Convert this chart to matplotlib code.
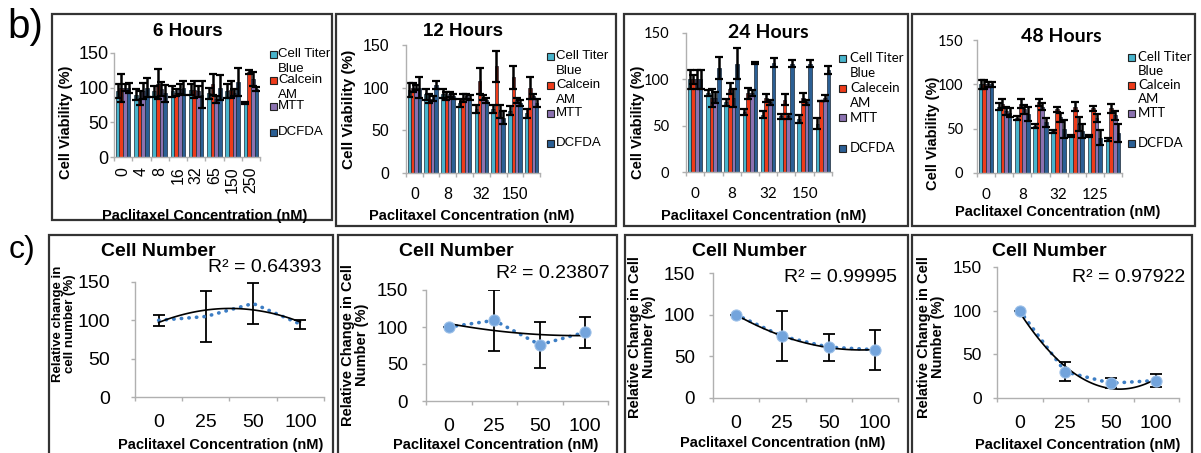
import numpy as np
import matplotlib
matplotlib.use("Agg")
import matplotlib.pyplot as plt
from matplotlib.patches import Rectangle

plt.rcParams["font.family"] = ["Liberation Sans", "DejaVu Sans"]

# ---- data ----
conc_labels = ["0", "4", "8", "16", "32", "65", "150", "250"]
conc_labels_48h = ["0", "4", "8", "16", "32", "65", "125", "250"]
assay_names = ["Cell Titer\nBlue", "Calcein\nAM", "MTT", "DCFDA"]
assay_names_24h = ["Cell Titer\nBlue", "Calecein\nAM", "MTT", "DCFDA"]

# rows: Cell Titer Blue, Calcein AM, MTT, DCFDA
means_6h = [[95, 90, 95, 95, 97, 92, 95, 78],
            [100, 85, 105, 93, 97, 105, 97, 122],
            [100, 95, 98, 98, 95, 83, 93, 112],
            [100, 100, 92, 100, 90, 100, 108, 98]]
errs_6h = [[10, 8, 8, 8, 8, 8, 10, 2],
           [20, 10, 22, 5, 12, 15, 12, 3],
           [5, 12, 10, 7, 8, 5, 5, 10],
           [7, 14, 12, 10, 20, 18, 20, 3]]

means_12h = [[97, 92, 93, 82, 75, 75, 73, 70],
             [100, 87, 90, 88, 108, 125, 112, 100],
             [100, 87, 92, 90, 88, 72, 85, 90],
             [100, 103, 90, 88, 85, 65, 82, 82]]
errs_12h = [[8, 6, 5, 5, 5, 5, 5, 5],
            [5, 5, 5, 5, 15, 18, 13, 13],
            [3, 3, 3, 3, 3, 8, 3, 3],
            [12, 5, 3, 3, 3, 8, 3, 5]]

means_24h = [[100, 85, 75, 65, 62, 60, 57, 52],
             [100, 80, 90, 85, 80, 78, 80, 77],
             [100, 80, 80, 85, 75, 60, 75, 80],
             [100, 112, 117, 118, 118, 117, 117, 110]]
errs_24h = [[10, 3, 4, 3, 4, 3, 4, 6],
            [5, 10, 6, 6, 4, 6, 5, 0],
            [10, 6, 10, 3, 3, 3, 3, 3],
            [10, 12, 17, 1, 5, 4, 4, 4]]

means_48h = [[100, 75, 62, 53, 47, 42, 42, 38],
             [100, 78, 78, 80, 72, 75, 73, 73],
             [100, 70, 72, 75, 63, 55, 62, 65],
             [100, 68, 67, 57, 50, 47, 40, 45]]
errs_48h = [[5, 4, 2, 2, 2, 1, 1, 2],
            [5, 5, 5, 4, 3, 5, 3, 5],
            [3, 5, 5, 4, 5, 8, 5, 5],
            [3, 5, 8, 5, 10, 8, 8, 10]]

dose_labels = ["0", "25", "50", "100"]
cells_1 = [100, 105, 122, 95]
cells_1_err = [7, 33, 27, 6]
cells_2 = [100, 109, 76, 93]
cells_2_err = [0, 41, 31, 21]
cells_3 = [100, 74, 61, 58]
cells_3_err = [0, 30, 16, 24]
cells_4 = [100, 30, 17, 20]
cells_4_err = [0, 11, 6, 7]
r2_labels = ["R² = 0.64393", "R² = 0.23807", "R² = 0.99995", "R² = 0.97922"]

assay_colors = ["#48B4CC", "#EE3B1A", "#8B72B0", "#2B5F94"]
AXIS_GRAY = "#B0B0B0"
DOT_BLUE = "#3C7DC4"
MARKER_BLUE = "#73A4DC"
BAR_W = 0.2

W, H = 1201, 453
fig = plt.figure(figsize=(W / 100, H / 100), dpi=100)


def fx(x):
    return x / W


def fy(y):
    return 1 - y / H


def ftext(x, y, s, **kw):
    kw.setdefault("ha", "center")
    kw.setdefault("va", "center")
    fig.text(fx(x), fy(y), s, **kw)


def box(x0, y0, x1, y1):
    fig.add_artist(Rectangle((fx(x0), fy(y1)), (x1 - x0) / W, (y1 - y0) / H,
                             transform=fig.transFigure, fill=False,
                             ec="#333333", lw=1.6))


def new_axes(x0, y0, x1, y1):
    ax = fig.add_axes([fx(x0), fy(y1), (x1 - x0) / W, (y1 - y0) / H])
    ax.patch.set_alpha(0)
    for s in ("top", "right"):
        ax.spines[s].set_visible(False)
    for s in ("left", "bottom"):
        ax.spines[s].set_color(AXIS_GRAY)
        ax.spines[s].set_linewidth(1.0)
    ax.tick_params(which="major", colors=AXIS_GRAY, labelcolor="black",
                   direction="out", length=3, width=1.0)
    return ax


def cat_ticks(ax, n, labels, shown, fs, pad, family, rot=0):
    ax.set_xlim(0, n)
    ax.set_xticks(np.arange(n + 1))
    ax.set_xticklabels([])
    centers = np.arange(n) + 0.5
    ax.set_xticks(centers[shown], minor=True)
    ax.set_xticklabels([labels[i] for i in shown], minor=True, rotation=rot,
                       fontsize=fs, family=family)
    ax.tick_params(axis="x", which="minor", length=0, pad=pad)


def bar_panel(rect, means, errs, labels, shown, rot, xfs, yfs, family, ypad, xpad):
    ax = new_axes(*rect)
    n = len(labels)
    pos = np.arange(n) + 0.5
    for k in range(4):
        ax.bar(pos + (k - 1.5) * BAR_W, means[k], BAR_W, color=assay_colors[k],
               edgecolor="#1d2a38", linewidth=0.5, yerr=errs[k], zorder=2,
               error_kw=dict(ecolor="black", elinewidth=1.8, capsize=3, capthick=1.6))
    ax.set_ylim(0, 150)
    ax.set_yticks([0, 50, 100, 150])
    ax.set_yticklabels(["0", "50", "100", "150"], fontsize=yfs, family=family)
    ax.tick_params(axis="y", pad=ypad)
    cat_ticks(ax, n, labels, shown, xfs, xpad, family, rot)
    return ax


def legend_block(sq_x, txt_x, y_entries, line_gap, names, fs, family):
    for k, name in enumerate(names):
        y = y_entries[k]
        fig.add_artist(Rectangle((fx(sq_x - 3.5), fy(y + 3.5)), 7 / W, 7 / H,
                                 transform=fig.transFigure, fc=assay_colors[k],
                                 ec="#222222", lw=0.8))
        for j, line in enumerate(name.split("\n")):
            ftext(txt_x, y + j * line_gap, line, ha="left", fontsize=fs, family=family)


def line_panel(rect, means, errs, markers, ypad, fs):
    ax = new_axes(*rect)
    pos = np.arange(4) + 0.5
    ax.errorbar(pos, means, yerr=errs, fmt="none", ecolor="black", elinewidth=1.3,
                capsize=4, capthick=1.3, zorder=3)
    ax.plot(pos, means, color=DOT_BLUE, lw=2.6, linestyle=(0, (0.1, 2.0)),
            dash_capstyle="round", zorder=4)
    if markers:
        ax.plot(pos, means, "o", ms=8, color=MARKER_BLUE, mec="#9CC0E8", mew=0.8, zorder=5)
    coef = np.polyfit(pos, means, 2)
    xs = np.linspace(pos[0], pos[-1], 100)
    ax.plot(xs, np.polyval(coef, xs), color="black", lw=1.2, zorder=4)
    ax.set_ylim(0, 150)
    ax.set_yticks([0, 50, 100, 150])
    ax.set_yticklabels(["0", "50", "100", "150"], fontsize=fs)
    ax.tick_params(axis="y", pad=ypad)
    cat_ticks(ax, 4, dose_labels, [0, 1, 2, 3], 14, 12, "Liberation Sans")
    return ax


# ---- panel frames and letters ----
for x0, x1, y1 in [(52, 332, 220), (336, 616, 226), (624, 908, 226), (912, 1195, 226)]:
    box(x0, 14, x1, y1)
for x0, x1 in [(49, 333), (338, 617), (625, 908), (912, 1192)]:
    box(x0, 235, x1, 470)
ftext(25, 27, "b)", fontsize=29)
ftext(22, 250, "c)", fontsize=23)

# ---- row b: viability bar charts ----
ARIAL = "Liberation Sans"
CAL = "Lato"
every_other = [0, 2, 4, 6]

bar_panel((114, 53, 260, 157), means_6h, errs_6h, conc_labels, list(range(8)), 90,
          11.5, 13, ARIAL, 1, 7)
bar_panel((406, 45, 540, 173), means_12h, errs_12h, conc_labels, every_other, 0,
          11.5, 11.5, ARIAL, 9, 10)
bar_panel((686, 33, 832, 172), means_24h, errs_24h, conc_labels, every_other, 0,
          11, 10.5, CAL, 9, 11)
bar_panel((977, 40, 1122, 173), means_48h, errs_48h, conc_labels_48h, every_other, 0,
          11, 10.5, CAL, 7, 11)

ftext(188, 31, "6 Hours", fontsize=13.5, weight="bold")
ftext(463, 32, "12 Hours", fontsize=13.5, weight="bold")
ftext(768, 32, "24 Hours", fontsize=14, weight="bold", family=CAL)
ftext(1061, 37, "48 Hours", fontsize=14, weight="bold", family=CAL)

for x, y, fs in [(66, 122, 10.5), (349, 109, 11), (638, 122, 10.5), (933, 133, 10.5)]:
    ftext(x, y, "Cell Viability (%)", rotation=90, fontsize=fs, weight="bold")
for x, y in [(205, 216), (472, 216), (764, 216), (1058, 212)]:
    ftext(x, y, "Paclitaxel Concentration (nM)", fontsize=10.5, weight="bold")

legend_block(273, 278, [54, 80, 106, 132], 15, assay_names, 9.5, ARIAL)
legend_block(550, 556, [56, 85, 113, 143], 15, assay_names, 9.5, ARIAL)
legend_block(842, 850, [58, 88, 118, 148], 15, assay_names_24h, 9.5, CAL)
legend_block(1131, 1138, [57, 85, 113, 143], 14, assay_names, 9.5, CAL)

# ---- row c: cell number ----
line_panel((135, 282, 324, 397), cells_1, cells_1_err, False, 15, 14)
line_panel((426, 290, 608, 401), cells_2, cells_2_err, True, 10, 13.5)
line_panel((713, 273, 898, 398), cells_3, cells_3_err, True, 10, 13.5)
line_panel((997, 267, 1179, 398), cells_4, cells_4_err, True, 8, 12.5)

for x in (158, 456, 749, 1049):
    ftext(x, 252, "Cell Number", fontsize=14, weight="bold")
for (x, y), r2 in zip([(321, 268), (609, 274), (897, 278), (1185, 278)], r2_labels):
    ftext(x, y, r2, ha="right", fontsize=14)
for x, y in [(221, 445), (496, 445), (783, 443), (1078, 445)]:
    ftext(x, y, "Paclitaxel Concentration (nM)", fontsize=10.5, weight="bold")
ftext(64, 324, "Relative change in\ncell number (%)", rotation=90, fontsize=9.5,
      weight="bold", linespacing=1.0)
for x, y in [(355, 345), (642, 337), (931, 337)]:
    ftext(x, y, "Relative Change in Cell\nNumber (%)", rotation=90, fontsize=10.5,
          weight="bold", linespacing=1.0)

fig.savefig("out.png", dpi=100)
